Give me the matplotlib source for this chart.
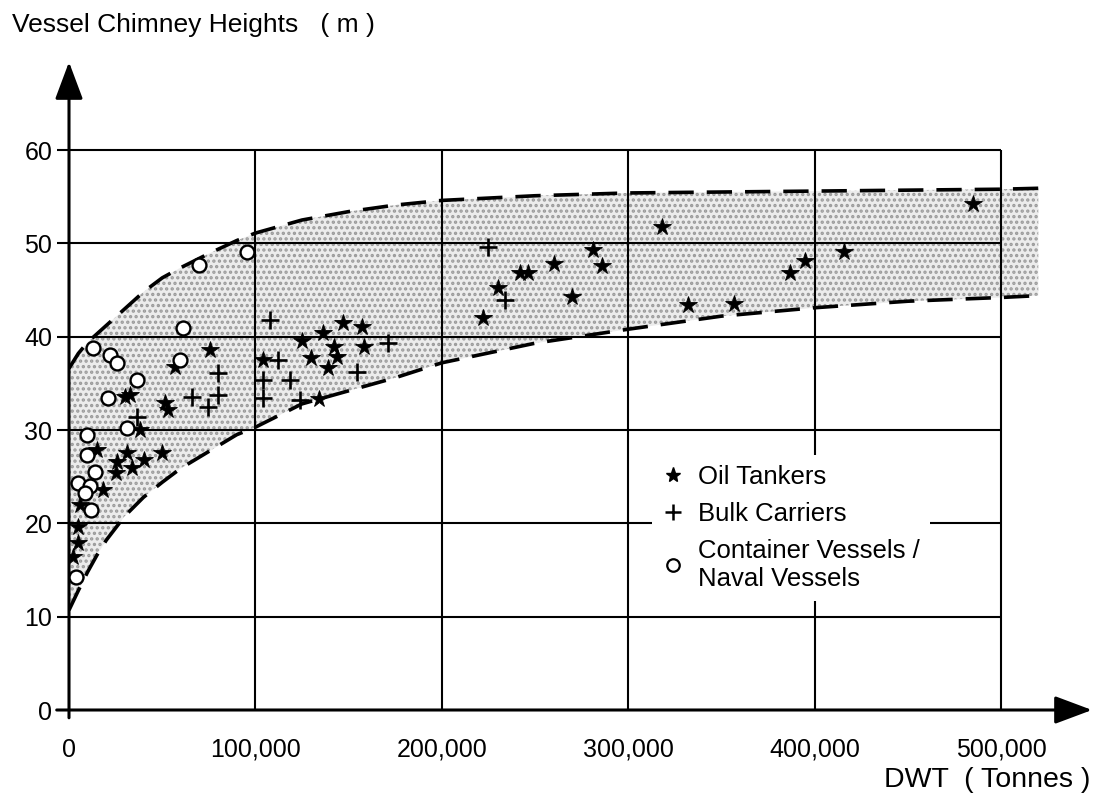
import matplotlib
matplotlib.use("Agg")
import matplotlib.pyplot as plt
from matplotlib.lines import Line2D

plt.rcParams['font.family'] = ['Liberation Sans', 'DejaVu Sans']
plt.rcParams['hatch.linewidth'] = 1.6
plt.rcParams['hatch.color'] = '#9a9a9a'

# ---------------- data (DWT in tonnes, height in m) ----------------
tanker_dwt = [485000, 416000, 395000, 387000, 357000, 332000, 318000, 286000,
              281000, 270000, 260000, 246000, 242000, 230000, 222000,
              147000, 157000, 125000, 136000, 142000, 130000, 144000, 139000,
              158000, 104000, 134000,
              75600, 57000, 51500, 53000, 32700, 30000, 38000, 15000, 26000,
              31000, 25000, 34000, 40000, 50000, 18000, 6000, 5000, 5000, 2000]
tanker_h = [54.2, 49.1, 48.1, 46.8, 43.5, 43.4, 51.8, 47.6,
            49.3, 44.3, 47.8, 46.8, 46.8, 45.2, 42.0,
            41.5, 41.0, 39.5, 40.4, 38.9, 37.7, 37.8, 36.6,
            38.9, 37.5, 33.3,
            38.6, 36.8, 32.9, 32.1, 33.8, 33.5, 30.0, 27.9, 26.6,
            27.5, 25.4, 25.9, 26.8, 27.5, 23.6, 22.0, 19.6, 17.9, 16.4]

bulk_dwt = [225000, 234000, 108000, 112000, 104000, 118500, 104000, 124000,
            154500, 171000, 80000, 80000, 66000, 74600, 36500]
bulk_h = [49.6, 43.9, 41.8, 37.5, 35.4, 35.4, 33.4, 33.2,
          36.2, 39.3, 36.1, 33.8, 33.5, 32.5, 31.4]

container_dwt = [61000, 70000, 95500, 59500, 13000, 22000, 26000, 36500, 21000,
                 31000, 9700, 9700, 14000, 5000, 11000, 8500, 12000, 4000]
container_h = [40.9, 47.7, 49.1, 37.5, 38.8, 38.0, 37.2, 35.4, 33.4,
               30.2, 29.5, 27.3, 25.5, 24.3, 24.0, 23.3, 21.4, 14.3]

band_dwt = [0, 5000, 10000, 15000, 20000, 30000, 40000, 50000, 60000, 75000,
            90000, 100000, 125000, 150000, 175000, 200000, 250000, 300000,
            350000, 400000, 450000, 500000, 520000]
band_upper = [36.6, 38.2, 39.4, 40.3, 41.2, 43.0, 44.8, 46.3, 47.4, 48.9,
              50.3, 51.1, 52.5, 53.4, 54.1, 54.6, 55.1, 55.4, 55.5, 55.6,
              55.7, 55.8, 55.9]
band_lower = [10.7, 12.8, 14.8, 16.6, 18.2, 20.8, 22.8, 24.4, 25.9, 27.7,
              29.5, 30.3, 32.8, 34.2, 35.6, 37.2, 39.3, 40.8, 42.2, 43.1,
              43.8, 44.2, 44.4]

x_ticks = [0, 100000, 200000, 300000, 400000, 500000]
x_tick_labels = ['0', '100,000', '200,000', '300,000', '400,000', '500,000']
y_ticks = [0, 10, 20, 30, 40, 50, 60]
y_tick_labels = ['0', '10', '20', '30', '40', '50', '60']

legend_labels = ['Oil Tankers', 'Bulk Carriers', 'Container Vessels /\nNaval Vessels']

# ---------------- figure ----------------
W, H = 1099, 799
fig = plt.figure(figsize=(W / 100, H / 100), dpi=100)
x0_px, x1_px = 69, 1092
y0_px, y1_px = 710, 62
ax = fig.add_axes([x0_px / W, (H - y0_px) / H, (x1_px - x0_px) / W, (y0_px - y1_px) / H])
ax.set_xlim(0, (x1_px - x0_px) / 186.4 * 100000)
ax.set_ylim(0, (y0_px - y1_px) / 9.333)
for s in ax.spines.values():
    s.set_visible(False)

# band
ax.fill_between(band_dwt, band_lower, band_upper, facecolor='#ececec',
                hatch='...', edgecolor='#9a9a9a', linewidth=0, zorder=1)
ax.plot(band_dwt, band_upper, color='black', lw=2.6, dashes=(7, 3.6),
        dash_capstyle='butt', zorder=3)
ax.plot(band_dwt, band_lower, color='black', lw=2.6, dashes=(7, 3.6),
        dash_capstyle='butt', zorder=3)

# grid
ax.hlines(y_ticks[1:], -6500, 500000, color='black', lw=1.5, zorder=2, clip_on=False)
ax.vlines(x_ticks[1:], 0, 60, color='black', lw=1.5, zorder=2, clip_on=False)

# axes with arrows
arrow_kw = dict(arrowstyle='-|>,head_length=2.3,head_width=0.86', mutation_scale=10,
                lw=2.2, color='black', shrinkA=0, shrinkB=0)
ax.annotate('', xy=(1, 0), xytext=(-0.012, 0), xycoords='axes fraction',
            arrowprops=arrow_kw, annotation_clip=False, zorder=4)
ax.annotate('', xy=(0, 1), xytext=(0, -0.012), xycoords='axes fraction',
            arrowprops=arrow_kw, annotation_clip=False, zorder=4)

# data
ax.plot(tanker_dwt, tanker_h, linestyle='none', marker='*', ms=13, color='black',
        mew=0.6, zorder=5)
ax.plot(bulk_dwt, bulk_h, linestyle='none', marker='+', ms=12.5, mew=1.9,
        color='black', zorder=5)
ax.plot(container_dwt, container_h, linestyle='none', marker='o', ms=10,
        mfc='white', mec='black', mew=1.7, zorder=5)

# ticks
ax.set_xticks(x_ticks)
ax.set_xticklabels(x_tick_labels, fontsize=18)
ax.set_yticks(y_ticks)
ax.set_yticklabels(y_tick_labels, fontsize=18)
ax.tick_params(length=0)
ax.tick_params(axis='x', pad=20)
ax.tick_params(axis='y', pad=12)

# axis titles
fig.text(12 / W, 1 - 25 / H, 'Vessel Chimney Heights   ( m )', fontsize=19,
         ha='left', va='center')
fig.text(1090 / W, 1 - 780 / H, 'DWT  ( Tonnes )', fontsize=20.5,
         ha='right', va='center')

# legend
handles = [
    Line2D([], [], linestyle='none', marker='*', ms=11, color='black'),
    Line2D([], [], linestyle='none', marker='+', ms=11, mew=1.8, color='black'),
    Line2D([], [], linestyle='none', marker='o', ms=9, mfc='white', mec='black', mew=1.6),
]
leg = ax.legend(handles, legend_labels, loc='upper left',
                bbox_to_anchor=((652 - x0_px) / (x1_px - x0_px), (y0_px - 455) / (y0_px - y1_px)),
                fontsize=18.5, frameon=True, framealpha=1, edgecolor='none',
                facecolor='white', fancybox=False, handlelength=0.8,
                handletextpad=0.6, labelspacing=0.5, borderpad=0.4,
                borderaxespad=0)
leg.set_zorder(6)

fig.savefig('out.png', dpi=100)
